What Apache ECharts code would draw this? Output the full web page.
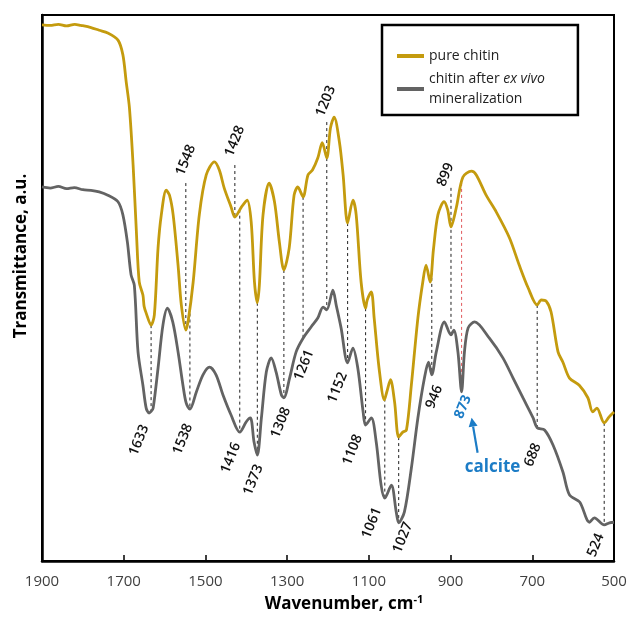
<!DOCTYPE html>
<html><head><meta charset="utf-8">
<script src="https://cdn.jsdelivr.net/npm/echarts@6/dist/echarts.min.js"></script>
<style>html,body{margin:0;padding:0;background:#fff}#c{width:632px;height:618px}</style>
</head><body><div id="c"></div>
<script>
// ---- data ----
const wavenumbersChitin = [1900,1880,1860,1840,1820,1805,1780,1760,1739,1714,1702,1694,1686,1677,1669,1662,1653,1650,1645,1633,1625,1616,1608,1596,1588,1579,1567,1559,1548,1542,1530,1515,1498,1478,1466,1454,1437,1428,1412,1398,1388,1380,1373,1368,1359,1344,1331,1319,1308,1295,1283,1274,1261,1249,1238,1225,1214,1203,1194,1185,1172,1163,1152,1139,1131,1119,1108,1104,1094,1087,1075,1062,1056,1047,1037,1027,1017,1008,996,980,968,960,950,942,931,916,907,899,886,870,849,837,813,788,756,732,710,688,678,666,654,637,625,609,585,564,552,542,524,512,500];
const transChitin = [98.2,98.1,98.3,98.0,98.3,98.1,97.7,97.2,96.7,95.4,92.7,87.8,83.0,72.5,60.3,51.1,48.7,46.6,45.4,43.2,45.1,57.3,63.4,67.9,67.0,63.4,54.2,46.9,42.3,44.1,51.1,63.4,70.7,73.1,71.6,68.3,64.8,63.0,64.8,66.1,62.1,51.1,47.3,50.5,63.4,69.2,65.8,58.4,53.3,57.3,67.0,68.5,66.7,70.7,71.6,73.8,76.6,73.8,79.3,81.3,76.7,70.7,61.9,66.1,63.4,51.1,46.3,47.8,49.3,44.5,35.3,29.5,31.0,33.2,29.1,22.7,23.6,24.0,32.2,44.5,51.1,54.2,51.1,57.0,63.4,65.8,64.3,61.2,64.7,70.3,71.4,70.7,67.0,63.9,59.2,54.2,50.0,46.9,47.8,47.6,45.6,38.3,36.4,33.5,32.2,29.9,27.3,28.0,25.3,26.4,27.3];

const wavenumbersMineral = [1900,1880,1860,1840,1821,1800,1780,1760,1739,1714,1702,1691,1682,1674,1665,1653,1645,1638,1633,1628,1616,1604,1593,1580,1567,1555,1547,1538,1522,1506,1490,1474,1457,1437,1416,1400,1390,1381,1373,1363,1351,1339,1327,1314,1308,1294,1278,1261,1241,1225,1212,1203,1188,1180,1168,1152,1139,1127,1114,1108,1094,1082,1070,1061,1045,1033,1027,1013,996,980,964,954,946,935,915,899,892,882,873,866,857,841,805,772,747,723,698,688,670,649,625,609,584,560,548,524,511,500];
const transMineral = [68.5,68.3,68.6,68.2,68.4,68.0,67.9,67.6,67.0,65.8,63.4,58.4,52.4,50.5,38.3,32.2,28.0,27.1,27.4,28.0,35.3,43.2,46.3,43.8,38.3,32.2,28.9,27.8,31.0,34.1,35.5,34.1,30.4,26.7,23.6,25.5,26.2,21.8,19.4,26.2,34.6,37.2,34.6,30.4,29.9,33.5,38.3,40.8,42.9,44.5,46.5,46.0,49.6,46.9,42.7,36.3,39.0,35.3,27.3,24.9,26.2,21.8,13.9,11.5,13.9,9.0,7.0,9.0,17.0,26.2,33.5,36.4,34.1,38.3,43.8,41.4,42.3,38.3,31.0,38.3,42.7,43.8,40.8,37.2,33.5,29.9,26.2,24.4,24.0,21.2,16.3,12.1,10.8,7.1,7.9,6.6,7.0,7.1];

const tickValues = [1900,1700,1500,1300,1100,900,700,500];

const peakPositions = [1633,1548,1538,1428,1416,1373,1308,1261,1203,1152,1108,1061,1027,946,899,873,688,524];
const peakLabels = ['1633','1548','1538','1428','1416','1373','1308','1261','1203','1152','1108','1061','1027','946','899','873','688','524'];
const peakFrom = ['gold','top','gold','top','gold','gold','gold','gold','top','gold','gold','gold','gold','gold','top','gold','gold','gold'];
const peakTo = ['gray','gold','gray','gold','gray','gray','gray','gray','gray','gray','gray','gray','gray','gray','gray','gray','gray','gray'];
const calcitePeak = 873;
const calciteText = 'calcite';

const seriesNames = ['pure chitin', 'chitin after ex vivo mineralization'];

// ---- layout (pixel nudges for annotation labels) ----
const labelNudge = [[-6,14],[-6,-8,147],[-1,15],[-6,-9,52],[-3,11],[2,10],[3,10],[7,12],[-7,-6,36],[-4,10],[-7,10],[-7,10],[10,0],[7,11],[-10,-2,39],[6,4],[0,16],[-4,9]];

function interpAt(ws, ts, w) {
  for (let i = 0; i < ws.length - 1; i++) {
    const a = ws[i], b = ws[i + 1];
    if ((w <= a && w >= b) || (w >= a && w <= b)) {
      const t = (w - a) / (b - a);
      return ts[i] + t * (ts[i + 1] - ts[i]);
    }
  }
  return ts[ts.length - 1];
}

const GOLD = '#C49B0E';
const GRAY = '#636363';
const BLUE = '#1C7CC6';
const FONT = '"Open Sans", "Noto Sans", sans-serif';

const chart = echarts.init(document.getElementById('c'), null, {renderer: 'canvas'});

const peakData = peakPositions.map((w, i) => [w, interpAt(wavenumbersChitin, transChitin, w), interpAt(wavenumbersMineral, transMineral, w), i]);

const option = {
  animation: false,
  backgroundColor: '#fff',
  grid: {left: 42, right: 18, top: 15, bottom: 57, show: true, borderColor: '#000', borderWidth: 2, backgroundColor: 'transparent'},
  legend: {
    data: seriesNames,
    left: 382, top: 25,
    orient: 'vertical',
    icon: 'rect', itemWidth: 27, itemHeight: 4, itemGap: 3,
    padding: [21, 33, 6, 15],
    borderColor: '#000', borderWidth: 2.5,
    backgroundColor: '#fff',
    selectedMode: false,
    formatter: function (name) {
      if (name === seriesNames[1]) return '{n|chitin after }{i|ex vivo}\n{n|mineralization}';
      return '{n|' + name + '}';
    },
    textStyle: {
      fontSize: 14, fontFamily: FONT, color: '#222', lineHeight: 20,
      rich: {
        n: {fontSize: 14, fontFamily: FONT, color: '#222', lineHeight: 20},
        i: {fontSize: 14, fontFamily: FONT, color: '#222', lineHeight: 20, fontStyle: 'italic'}
      }
    }
  },
  xAxis: {
    type: 'value', inverse: true, min: 500, max: 1900,
    axisLine: {show: true, onZero: false, lineStyle: {color: '#000', width: 2.5}},
    axisTick: {show: true, inside: true, length: 6, customValues: tickValues, lineStyle: {color: '#000', width: 1.5}},
    axisLabel: {customValues: tickValues, fontSize: 15, fontFamily: FONT, color: '#404040', margin: 13,
      formatter: function (v) { return String(v); }},
    splitLine: {show: false},
    name: 'Wavenumber, cm{sup|-1}',
    nameLocation: 'middle', nameGap: 33,
    nameTextStyle: {
      fontSize: 17, fontWeight: 'bold', fontFamily: FONT, color: '#000', padding: [0, 0, 0, 32],
      rich: {sup: {fontSize: 11, fontWeight: 'bold', fontFamily: FONT, color: '#000', verticalAlign: 'top', padding: [0, 0, 9, 0]}}
    }
  },
  yAxis: {
    type: 'value', min: 0, max: 100,
    axisLine: {show: true, lineStyle: {color: '#000', width: 2.5}},
    axisTick: {show: false}, axisLabel: {show: false}, splitLine: {show: false},
    name: 'Transmittance, a.u.', nameLocation: 'middle', nameGap: 12,
    nameTextStyle: {fontSize: 17, fontWeight: 'bold', fontFamily: FONT, color: '#000', padding: [0, 0, 0, 64]}
  },
  series: [
    {
      type: 'custom', name: 'peaks', coordinateSystem: 'cartesian2d', silent: true, z: 1,
      encode: {x: 0, y: 1},
      data: peakData,
      renderItem: function (params, api) {
        const i = api.value(3);
        const w = api.value(0);
        const pg = api.coord([w, api.value(1)]);
        const pr = api.coord([w, api.value(2)]);
        const nud = labelNudge[i];
        const x = pg[0];
        const isTop = peakFrom[i] === 'top';
        const y1 = isTop ? pg[1] - nud[2] : pg[1];
        const y2 = peakTo[i] === 'gray' ? pr[1] : pg[1];
        const isCalc = peakPositions[i] === calcitePeak;
        const children = [{
          type: 'line', shape: {x1: x, y1: y1, x2: x, y2: y2},
          style: {stroke: isCalc ? '#E0575B' : '#222', lineWidth: 1, lineDash: [3, 3]}
        }];
        const ay = isTop ? y1 + nud[1] : y2 + nud[1];
        const ax = x + nud[0];
        children.push({
          type: 'text', x: ax, y: ay, rotation: 68 * Math.PI / 180,
          style: {
            text: peakLabels[i], fill: isCalc ? BLUE : '#111',
            fontSize: 14, fontFamily: FONT, fontWeight: isCalc ? 'bold' : 600,
            align: isTop ? 'left' : 'right', verticalAlign: 'middle'
          }
        });
        if (isCalc) {
          const ex = x + 10, ey = y2 + 26, sx = x + 16, sy = y2 + 61;
          const dx = ex - sx, dy = ey - sy, L = Math.sqrt(dx * dx + dy * dy);
          const ux = dx / L, uy = dy / L, px = -uy, py = ux;
          const bx = ex - ux * 9, by = ey - uy * 9;
          children.push({type: 'line', shape: {x1: sx, y1: sy, x2: bx, y2: by}, style: {stroke: BLUE, lineWidth: 2.2}});
          children.push({type: 'polygon', shape: {points: [[ex, ey], [bx + px * 4.5, by + py * 4.5], [bx - px * 4.5, by - py * 4.5]]}, style: {fill: BLUE}});
          children.push({
            type: 'text', x: x + 31, y: y2 + 75,
            style: {text: calciteText, fill: BLUE, fontSize: 17, fontWeight: 'bold', fontFamily: FONT, align: 'center', verticalAlign: 'middle'}
          });
        }
        return {type: 'group', children: children};
      }
    },
    {
      type: 'line', name: seriesNames[0], color: GOLD, z: 3,
      data: wavenumbersChitin.map((w, i) => [w, transChitin[i]]),
      showSymbol: false, smooth: 0.3,
      lineStyle: {color: GOLD, width: 2.8}
    },
    {
      type: 'line', name: seriesNames[1], color: GRAY, z: 3,
      data: wavenumbersMineral.map((w, i) => [w, transMineral[i]]),
      showSymbol: false, smooth: 0.3,
      lineStyle: {color: GRAY, width: 2.8}
    }
  ]
};
chart.setOption(option);
</script>
</body></html>
